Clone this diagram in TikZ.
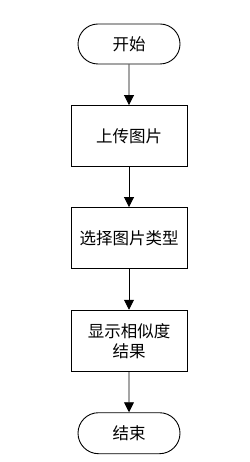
\documentclass[tikz,border=0pt]{standalone}
\usepackage{fontspec}
\newfontfamily\cjk{Noto Sans CJK SC}
\usetikzlibrary{arrows.meta,shapes.misc}
\begin{document}
\begin{tikzpicture}[x=1pt,y=-1pt,
  every node/.style={font=\cjk\fontsize{16.5}{20}\selectfont, inner sep=0pt, line width=0.9pt},
  term/.style={draw, rounded rectangle, minimum width=102pt, minimum height=40pt},
  proc/.style={draw, rectangle, minimum width=116pt, minimum height=61pt, align=center},
  flow/.style={line width=0.9pt, -{Triangle[width=10pt,length=10pt]}}]
\useasboundingbox (0,0) rectangle (249,462);
\node[term] (start) at (129,44) {开始};
\node[proc] (b1) at (129,136) {上传图片};
\node[proc] (b2) at (129,238) {选择图片类型};
\node[proc] (b3) at (129,340.7) {显示相似度\\结果};
\node[term, minimum height=41pt] (end) at (129,433.2) {结束};
\draw[flow] (start) -- (b1);
\draw[flow] (b1) -- (b2);
\draw[flow] (b2) -- (b3);
\draw[flow] (b3) -- (end);
\end{tikzpicture}
\end{document}
